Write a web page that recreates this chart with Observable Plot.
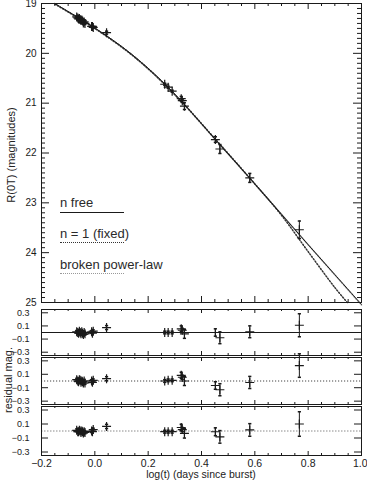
<!DOCTYPE html>
<html><head><meta charset="utf-8">
<script src="https://cdn.jsdelivr.net/npm/d3@7"></script>
<script src="https://cdn.jsdelivr.net/npm/@observablehq/plot@0.6"></script>
<style>
body{margin:0;background:#fff;}
#wrap{position:relative;width:367px;height:481px;font-family:"Liberation Sans",Arial,sans-serif;color:#222;overflow:hidden;}
#wrap svg{position:absolute;left:0;}
.lg{position:absolute;left:60px;font-size:13px;line-height:13px;white-space:nowrap;color:#2a2a2a;}
.ln{position:absolute;left:60px;width:64px;height:0;}
.yt{position:absolute;font-size:11px;white-space:nowrap;transform:translate(-50%,-50%) rotate(-90deg);}
</style></head><body><div id="wrap"></div>
<script>
// ---- observed data: log(t) [days], R magnitude, error ----
const logT   = [-0.068,-0.064,-0.061,-0.058,-0.055,-0.052,-0.049,-0.046,-0.043,-0.040,-0.037,-0.012,-0.009,-0.006, 0.044, 0.262, 0.275, 0.290, 0.324, 0.328, 0.336, 0.452, 0.469, 0.581, 0.767];
const mag    = [19.27, 19.29, 19.31, 19.30, 19.32, 19.34, 19.33, 19.35, 19.39, 19.37, 19.40, 19.46, 19.46, 19.48, 19.585, 20.62, 20.68, 20.76, 20.91, 20.95, 21.06, 21.73, 21.92, 22.50, 23.54];
const magErr = [0.02, 0.02, 0.02, 0.02, 0.02, 0.02, 0.02, 0.02, 0.02, 0.02, 0.02, 0.02, 0.02, 0.02, 0.03, 0.02, 0.02, 0.02, 0.045, 0.03, 0.067, 0.056, 0.09, 0.09, 0.175];
// residuals for each fit
const resNFree  = [0.01, 0.00,-0.01, 0.02, 0.00,-0.02, 0.01,-0.01,-0.03, 0.00,-0.02, 0.01,-0.01, 0.02, 0.075, 0.00, 0.00, 0.00, 0.056, 0.034,-0.022, 0.00,-0.08, 0.011, 0.11];
const resNFixed = [0.02, 0.00,-0.01, 0.02, 0.01,-0.02, 0.00,-0.01,-0.03, 0.00,-0.03, 0.00,-0.02, 0.01, 0.034, 0.00, 0.01, 0.01, 0.085, 0.056, 0.00,-0.067,-0.13,-0.022, 0.23];
const resBroken = [0.01,-0.01,-0.01, 0.01, 0.00,-0.02, 0.00,-0.01,-0.03,-0.01,-0.02, 0.00,-0.01, 0.02, 0.065,-0.01,-0.01,-0.01, 0.05, 0.02,-0.034,-0.011,-0.084, 0.015, 0.10];
// ---- fitted model curves ----
const fitT      = [-0.15, -0.10, -0.05, 0.00, 0.05, 0.10, 0.15, 0.20, 0.25, 0.30, 0.35, 0.40, 0.45, 0.50, 0.60, 0.70, 0.80, 0.90, 1.00];
const fitNFree  = [19.00, 19.16, 19.32, 19.49, 19.67, 19.86, 20.07, 20.30, 20.55, 20.82, 21.11, 21.41, 21.72, 22.02, 22.62, 23.23, 23.84, 24.44, 25.04];
const fixT      = [-0.15, -0.10, -0.05, 0.00, 0.05, 0.10, 0.15, 0.20, 0.25, 0.30, 0.35, 0.40, 0.45, 0.50, 0.60, 0.70, 0.80, 0.90, 0.947];
const fitNFixed = [19.01, 19.17, 19.33, 19.50, 19.68, 19.87, 20.08, 20.31, 20.56, 20.83, 21.11, 21.41, 21.71, 22.01, 22.62, 23.25, 23.98, 24.70, 25.00];
const brkT      = [-0.15, -0.05, 0.05, 0.15, 0.25, 0.35, 0.45, 0.60, 0.80, 1.00];
const fitBroken = [19.01, 19.33, 19.68, 20.08, 20.56, 21.12, 21.72, 22.62, 23.84, 25.05];
// ---- ticks & labels ----
const magTicks = [19, 20, 21, 22, 23, 24, 25];
const magMinor = d3.range(19, 25.001, 0.1).filter(v => Math.abs(v - Math.round(v)) > 0.01);
const xTicks   = [-0.2, 0.0, 0.2, 0.4, 0.6, 0.8, 1.0];
const xMinor   = d3.range(-0.2, 1.0001, 0.05).filter(v => Math.abs(v*5 - Math.round(v*5)) > 0.01);
const resTicks = [-0.3, -0.1, 0.1, 0.3];
const legendLabels = ["n free", "n = 1 (fixed)", "broken power-law"];
const xTitle = "log(t) (days since burst)";
const yTitleMain = "R(0T) (magnitudes)";
const yTitleRes = "residual mag.";

const W = 367, ML = 41, MR = 6, IW = W - ML - MR;
const INK = "#1a1a1a";
const idx = d3.range(logT.length);
const capSym = {draw(ctx, size){ const r = Math.sqrt(size/Math.PI); ctx.moveTo(-r,0); ctx.lineTo(r,0); }};
const wrap = document.getElementById("wrap");
const style = {fontFamily: '"Liberation Sans", Arial, sans-serif', fontSize: "10px", color: INK, background: "none", overflow: "visible"};

function edgeTicks(innerH, yMaj, yMajLen, yMin, yMinLen, xMajLen, xMinLen) {
  const m = [];
  m.push(Plot.tickY(yMaj, {y: d => d, insetRight: IW - yMajLen, stroke: INK}));
  m.push(Plot.tickY(yMaj, {y: d => d, insetLeft: IW - yMajLen, stroke: INK}));
  if (yMin) {
    m.push(Plot.tickY(yMin, {y: d => d, insetRight: IW - yMinLen, stroke: INK}));
    m.push(Plot.tickY(yMin, {y: d => d, insetLeft: IW - yMinLen, stroke: INK}));
  }
  m.push(Plot.tickX(xTicks, {x: d => d, insetBottom: innerH - xMajLen, stroke: INK}));
  m.push(Plot.tickX(xTicks, {x: d => d, insetTop: innerH - xMajLen, stroke: INK}));
  m.push(Plot.tickX(xMinor, {x: d => d, insetBottom: innerH - xMinLen, stroke: INK}));
  m.push(Plot.tickX(xMinor, {x: d => d, insetTop: innerH - xMinLen, stroke: INK}));
  return m;
}
function errMarks(yv, ev) {
  return [
    Plot.ruleX(idx, {x: i => logT[i], y1: i => yv[i] - ev[i], y2: i => yv[i] + ev[i], stroke: INK, strokeWidth: 1}),
    Plot.dot(idx, {x: i => logT[i], y: i => yv[i] - ev[i], symbol: capSym, r: 1.6, stroke: INK, fill: "none"}),
    Plot.dot(idx, {x: i => logT[i], y: i => yv[i] + ev[i], symbol: capSym, r: 1.6, stroke: INK, fill: "none"}),
    Plot.dot(idx, {x: i => logT[i], y: i => yv[i], symbol: "plus", r: 3, stroke: INK, fill: "none", strokeWidth: 1.2})
  ];
}
function place(svg, top) { svg.style.top = top + "px"; wrap.appendChild(svg); }

// ---- main panel ----
const innerMain = 299;
const main = Plot.plot({
  width: W, height: 305, marginLeft: ML, marginRight: MR, marginTop: 3, marginBottom: 3,
  x: {domain: [-0.2, 1.0], axis: null},
  y: {domain: [25, 19], axis: null},
  style,
  marks: [
    Plot.line(d3.range(brkT.length), {x: i => brkT[i], y: i => fitBroken[i], stroke: "#a0a0a0", strokeDasharray: "1.5,1.5", curve: "catmull-rom"}),
    Plot.line(d3.range(fixT.length), {x: i => fixT[i], y: i => fitNFixed[i], stroke: "#333", strokeDasharray: "1.2,1.8", curve: "catmull-rom"}),
    Plot.line(d3.range(fitT.length), {x: i => fitT[i], y: i => fitNFree[i], stroke: INK, strokeWidth: 1, curve: "catmull-rom"}),
    ...errMarks(mag, magErr),
    ...edgeTicks(innerMain, magTicks, 8, magMinor, 4, 6, 3),
    Plot.axisY(magTicks, {anchor: "left", tickSize: 0, tickPadding: 5, fontSize: 10, tickFormat: d => String(d)}),
    Plot.frame({stroke: INK})
  ]
});
place(main, 0);

// ---- residual panels ----
function resPanel(res, top, height, mb, zeroStyle, withX) {
  const innerH = height - 3 - mb;
  const fmt = d3.format(".1f");
  const p = Plot.plot({
    width: W, height, marginLeft: ML, marginRight: MR, marginTop: 3, marginBottom: mb,
    x: {domain: [-0.2, 1.0], axis: null},
    y: {domain: [-0.35, 0.35], axis: null},
    style,
    marks: [
      Plot.ruleY([0], zeroStyle),
      ...errMarks(res, magErr),
      ...edgeTicks(innerH, resTicks, 7, null, 0, 4, 2),
      Plot.axisY(resTicks, {anchor: "left", tickSize: 0, tickPadding: 12, fontSize: 9, tickFormat: fmt}),
      ...(withX ? [
        Plot.axisX(xTicks.slice(0, -1), {anchor: "bottom", tickSize: 0, tickPadding: 4, fontSize: 10.5, tickFormat: fmt}),
        Plot.axisX(xTicks.slice(-1), {anchor: "bottom", tickSize: 0, tickPadding: 4, fontSize: 10.5, tickFormat: fmt, textAnchor: "end", dx: 6})
      ] : []),
      Plot.frame({stroke: INK})
    ]
  });
  place(p, top);
}
resPanel(resNFree, 306, 52, 3, {stroke: INK, strokeWidth: 1}, false);
resPanel(resNFixed, 354, 53, 3, {stroke: "#444", strokeDasharray: "1.2,1.8"}, false);
resPanel(resBroken, 403, 78, 26, {stroke: "#8a8a8a", strokeDasharray: "1.5,1.5"}, true);

// ---- texts & legend ----
function addDiv(cls, text, css) { const d = document.createElement("div"); d.className = cls; d.textContent = text; Object.assign(d.style, css); wrap.appendChild(d); return d; }
const legendTops = [196, 227, 258];
const lineStyles = ["1px solid #1a1a1a", "1px dotted #333", "1px dotted #999"];
const lineTops = [212, 242, 273];
legendLabels.forEach((t, k) => {
  addDiv("lg", t, {top: legendTops[k] + "px"});
  addDiv("ln", "", {top: lineTops[k] + "px", borderTop: lineStyles[k]});
});
addDiv("yt", yTitleMain, {left: "11px", top: "155px"});
addDiv("yt", yTitleRes, {left: "8px", top: "380px"});
addDiv("xt", xTitle, {position: "absolute", left: (ML + IW/2) + "px", top: "468px", fontSize: "10.5px", lineHeight: "12px", transform: "translateX(-50%)", whiteSpace: "nowrap"});
</script></body></html>
